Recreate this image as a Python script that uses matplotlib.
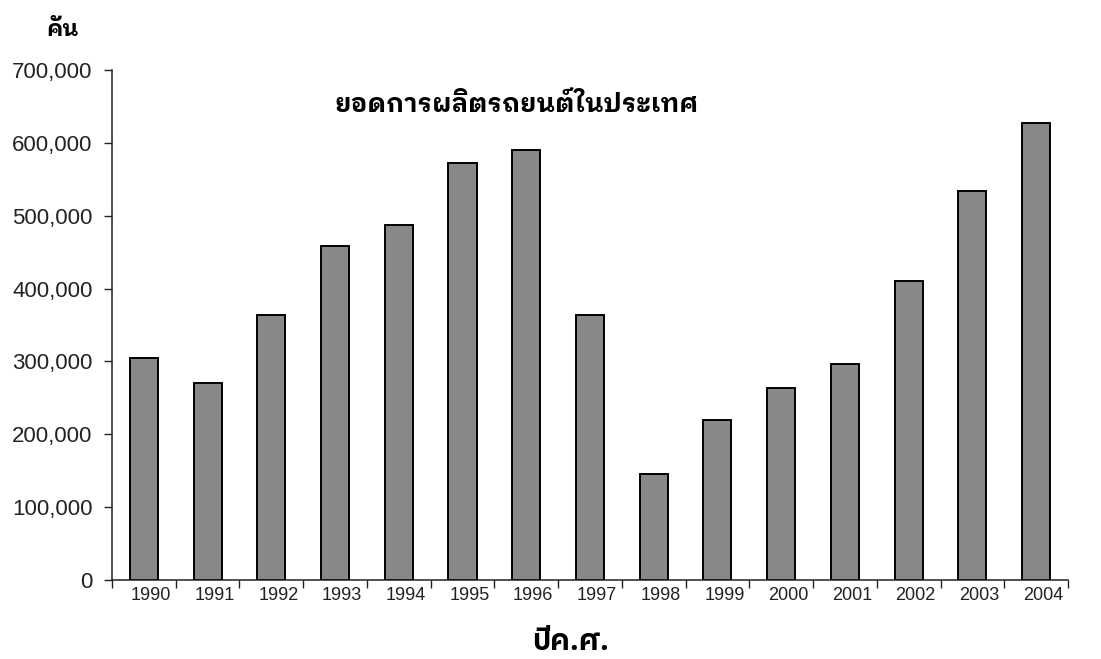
#!/usr/bin/env python3

import numpy as np
import matplotlib
matplotlib.use("Agg")
import matplotlib.pyplot as plt
import matplotlib.transforms as mtransforms

years = ['1990', '1991', '1992', '1993', '1994', '1995', '1996', '1997',
         '1998', '1999', '2000', '2001', '2002', '2003', '2004']
cars = [305000, 270000, 364000, 459000, 487000, 572000, 590000, 364000,
        145000, 219000, 263000, 297000, 410000, 534000, 627000]
yticks = [0, 100000, 200000, 300000, 400000, 500000, 600000, 700000]

title = 'ยอดการผลิตรถยนต์ในประเทศ'
ylabel = 'คัน'
xlabel = 'ปีค.ศ.'

plt.rcParams['font.family'] = ['Liberation Sans', 'DejaVu Sans']

fig = plt.figure(figsize=(11.01, 6.59), dpi=100)
ax = fig.add_axes([0.1017, 0.1199, 0.8683, 0.7739])

x = np.arange(len(years))
ax.bar(x, cars, width=0.44, color='#888888', edgecolor='black', linewidth=1.4)

ax.set_xlim(-0.5, len(years) - 0.5)
ax.set_ylim(0, 700000)
ax.set_yticks(yticks)
ax.set_yticklabels(['{:,}'.format(v) for v in yticks], fontsize=16)
ax.tick_params(axis='y', direction='out', length=6, width=1, pad=8, colors='#222222')

ax.set_xticks(x)
ax.set_xticklabels(years, fontsize=13)
ax.set_xticks(np.arange(len(years) + 1) - 0.5, minor=True)
ax.tick_params(axis='x', which='major', length=0, pad=5, colors='#222222')
ax.tick_params(axis='x', which='minor', direction='out', length=6, width=1, colors='#222222')
shift = mtransforms.ScaledTranslation(0.07, 0, fig.dpi_scale_trans)
for lbl in ax.get_xticklabels():
    lbl.set_transform(lbl.get_transform() + shift)

for side in ['top', 'right']:
    ax.spines[side].set_visible(False)
for side in ['left', 'bottom']:
    ax.spines[side].set_color('#222222')
    ax.spines[side].set_linewidth(1.1)

fig.text(0.469, 0.842, title, ha='center', va='center', fontsize=18.5,
         weight='bold', family=['IBM Plex Sans Thai Looped', 'DejaVu Sans'])
fig.text(0.057, 0.955, ylabel, ha='center', va='center', fontsize=16,
         weight='bold', family=['IBM Plex Sans Thai Looped', 'DejaVu Sans'])
fig.text(0.518, 0.026, xlabel, ha='center', va='center', fontsize=21,
         weight='bold', family=['IBM Plex Sans Thai', 'DejaVu Sans'])

fig.savefig('out.png', dpi=100)
